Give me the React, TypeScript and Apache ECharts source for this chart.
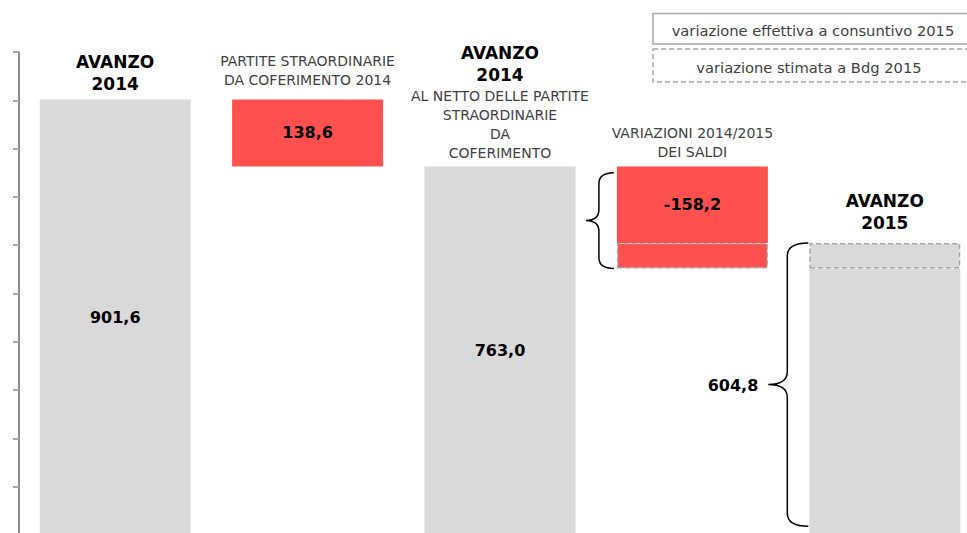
import React, { useEffect, useRef } from "react";
import * as echarts from "echarts";

// ---------- DATA ----------
const categories = [
  "AVANZO 2014",
  "PARTITE STRAORDINARIE DA COFERIMENTO 2014",
  "AVANZO 2014 AL NETTO",
  "VARIAZIONI 2014/2015 DEI SALDI",
  "AVANZO 2015",
];
const avanzo2014 = 901.6;
const partiteStraordinarie = 138.6;
const avanzo2014Netto = 763.0;
const variazioneSaldi = -158.2;
const avanzo2015 = 604.8;
const livelloConsuntivo2015 = 552.0;

const yTicks = [0, 100, 200, 300, 400, 500, 600, 700, 800, 900, 1000];

const baseValues = [0, avanzo2014Netto, 0, livelloConsuntivo2015, 0];
const stimataLowValues = [null, null, null, avanzo2015 - livelloConsuntivo2015, null];
const solidValues = [avanzo2014, partiteStraordinarie, avanzo2014Netto, -variazioneSaldi, livelloConsuntivo2015];
const stimataHighValues = [null, null, null, null, avanzo2015 - livelloConsuntivo2015];
const solidKind = ["total", "delta", "total", "delta", "total"];
const labelValues = [avanzo2014, partiteStraordinarie, avanzo2014Netto, variazioneSaldi, null];

const headerBold = [["AVANZO", "2014"], [], ["AVANZO", "2014"], [], ["AVANZO", "2015"]];
const headerNormal = [
  [],
  ["PARTITE STRAORDINARIE", "DA COFERIMENTO 2014"],
  ["AL NETTO DELLE PARTITE", "STRAORDINARIE", "DA", "COFERIMENTO"],
  ["VARIAZIONI 2014/2015", "DEI SALDI"],
  [],
];
const headerTops = [avanzo2014, avanzo2014, avanzo2014Netto, avanzo2014Netto, avanzo2015];

const braceCats = [3, 4];
const braceLow = [552.0, 18.0];
const braceHigh = [750.0, 604.8];
const braceLabels = ["", "604,8"];

const legendTexts = ["variazione effettiva a consuntivo 2015", "variazione stimata a Bdg 2015"];

// ---------- STYLE ----------
const GRAY = "#d9d9d9";
const RED = "#ff5050";
const DASH = "#a6a6a6";
const FONT = "DejaVu Sans";
const BAR_WIDTH = 151;
const headerGap = [5, 10, 4, 5, 8.5];
const braceGeom = [
  { tip: -31, mid: -18, end: -3, r: 11 },
  { tip: -41, mid: -22, end: -1, r: 13 },
];

const fmt = (v: number) => v.toFixed(1).replace(".", ",");

export default function App() {
  const ref = useRef<HTMLDivElement>(null);
  useEffect(() => {
    if (!ref.current) return;
    const chart = echarts.init(ref.current, null, { renderer: "svg" });

    const dashedStyle = (color: string) => ({
      color,
      borderColor: DASH,
      borderWidth: 1.5,
      borderType: [5, 3] as any,
    });

    const option: any = {
      animation: false,
      backgroundColor: "#fff",
      grid: {
        left: 19,
        top: 52,
        width: 962,
        height: 483,
        containLabel: false,
        outerBoundsMode: "none",
      },
      xAxis: {
        type: "category",
        data: categories,
        show: false,
      },
      yAxis: {
        type: "value",
        min: yTicks[0],
        max: yTicks[yTicks.length - 1],
        interval: yTicks[1] - yTicks[0],
        axisLine: { show: true, lineStyle: { color: "#8c8c8c", width: 2 } },
        axisTick: { show: true, length: 6, lineStyle: { color: "#a6a6a6", width: 2 } },
        axisLabel: { show: false },
        splitLine: { show: false },
      },
      series: [
        {
          name: "base",
          type: "bar",
          stack: "w",
          barWidth: BAR_WIDTH,
          itemStyle: { color: "transparent" },
          data: baseValues,
          silent: true,
        },
        {
          name: "stimataLow",
          type: "bar",
          stack: "w",
          barWidth: BAR_WIDTH,
          data: stimataLowValues.map((v) => (v == null ? null : { value: v, itemStyle: dashedStyle(RED) })),
        },
        {
          name: "solid",
          type: "bar",
          stack: "w",
          barWidth: BAR_WIDTH,
          data: solidValues.map((v, i) => ({
            value: v,
            itemStyle: { color: solidKind[i] === "total" ? GRAY : RED },
          })),
          label: {
            show: true,
            position: "inside",
            color: "#000",
            fontFamily: FONT,
            fontWeight: "bold",
            fontSize: 16,
            formatter: (p: any) => {
              const v = labelValues[p.dataIndex];
              return v == null ? "" : fmt(v);
            },
          },
        },
        {
          name: "stimataHigh",
          type: "bar",
          stack: "w",
          barWidth: BAR_WIDTH,
          data: stimataHighValues.map((v) => (v == null ? null : { value: v, itemStyle: dashedStyle(GRAY) })),
        },
        {
          name: "headers",
          type: "custom",
          clip: false,
          silent: true,
          data: headerTops.map((v, i) => [i, v]),
          renderItem: (params: any, api: any) => {
            const idx = params.dataIndex;
            const p = api.coord([api.value(0), api.value(1)]);
            const lines = [
              ...headerBold[idx].map((t) => `{b|${t}}`),
              ...headerNormal[idx].map((t) => `{n|${t}}`),
            ];
            return {
              type: "text",
              style: {
                text: lines.join("\n"),
                x: p[0],
                y: p[1] - headerGap[idx],
                align: "center",
                verticalAlign: "bottom",
                rich: {
                  b: { fontFamily: FONT, fontWeight: "bold", fontSize: 17, lineHeight: 22, fill: "#000", color: "#000", align: "center" },
                  n: { fontFamily: FONT, fontSize: 14, lineHeight: 19, fill: "#404040", color: "#404040", align: "center" },
                },
              },
            };
          },
        },
        {
          name: "braces",
          type: "custom",
          clip: false,
          silent: true,
          data: braceCats.map((c, i) => [c, braceLow[i], braceHigh[i]]),
          renderItem: (params: any, api: any) => {
            const idx = params.dataIndex;
            const g = braceGeom[idx];
            const top = api.coord([api.value(0), api.value(2)]);
            const bot = api.coord([api.value(0), api.value(1)]);
            const left = top[0] - BAR_WIDTH / 2;
            const x0 = left + g.tip;
            const xm = left + g.mid;
            const x1 = left + g.end;
            const y0 = top[1];
            const y1 = bot[1];
            const cy = (y0 + y1) / 2;
            const r = g.r;
            const d =
              `M${x1},${y0} Q${xm},${y0} ${xm},${y0 + r} L${xm},${cy - r} ` +
              `Q${xm},${cy} ${x0},${cy} Q${xm},${cy} ${xm},${cy + r} ` +
              `L${xm},${y1 - r} Q${xm},${y1} ${x1},${y1}`;
            const children: any[] = [
              {
                type: "path",
                shape: { pathData: d },
                style: { fill: "none", stroke: "#000", lineWidth: 1.5 },
              },
            ];
            if (braceLabels[idx]) {
              children.push({
                type: "text",
                style: {
                  text: braceLabels[idx],
                  x: x0 - 10,
                  y: cy + 1,
                  align: "right",
                  verticalAlign: "middle",
                  fontFamily: FONT,
                  fontWeight: "bold",
                  fontSize: 16,
                  fill: "#000",
                },
              });
            }
            return { type: "group", children };
          },
        },
      ],
      graphic: [
        {
          type: "rect",
          shape: { x: 653, y: 13.5, width: 340, height: 30.5 },
          style: { fill: "#fff", stroke: DASH, lineWidth: 1.5 },
          z: 10,
        },
        {
          type: "text",
          style: {
            text: legendTexts[0],
            x: 813,
            y: 30,
            align: "center",
            verticalAlign: "middle",
            fontFamily: FONT,
            fontSize: 14.7,
            fill: "#404040",
          },
          z: 11,
        },
        {
          type: "rect",
          shape: { x: 653, y: 49, width: 340, height: 33 },
          style: { fill: "#fff", stroke: DASH, lineWidth: 1.5, lineDash: [5, 3] },
          z: 10,
        },
        {
          type: "text",
          style: {
            text: legendTexts[1],
            x: 809,
            y: 67,
            align: "center",
            verticalAlign: "middle",
            fontFamily: FONT,
            fontSize: 14.7,
            fill: "#404040",
          },
          z: 11,
        },
      ],
    };
    chart.setOption(option);
    return () => chart.dispose();
  }, []);
  return (
    <div
      ref={ref}
      style={{ position: "fixed", left: 0, top: 0, width: 967, height: 533 }}
    />
  );
}
